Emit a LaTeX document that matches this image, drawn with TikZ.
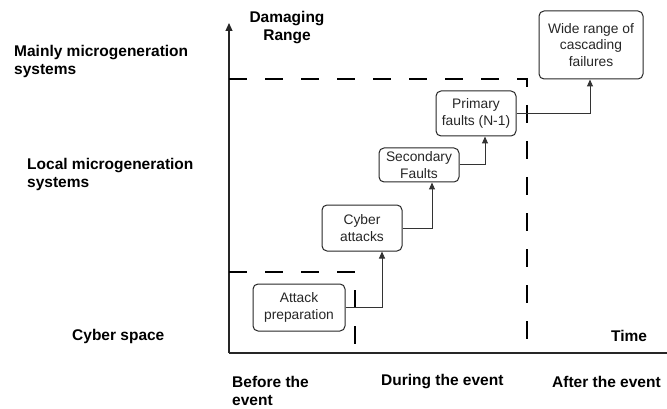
\documentclass[tikz,border=0pt]{standalone}
\usepackage{fontspec}
\setmainfont{Liberation Sans}
\usetikzlibrary{arrows.meta}
\tikzset{
  box/.style={draw=black!85, line width=1pt, rounded corners=5pt, inner sep=0pt, align=center,
    font=\fontsize{13.8}{16.7}\selectfont, text=black!85},
  lbl/.style={inner sep=0pt, font=\fontsize{15.5}{18}\selectfont\bfseries, align=left},
  axis/.style={draw=black!85, line width=1.2pt, -{Triangle[length=8pt,width=7pt]}},
  conn/.style={draw=black!80, line width=1pt, -{Triangle[length=7pt,width=6pt]}},
  dsh/.style={draw=black, line width=2pt, dash pattern=on 18pt off 18pt}
}
\begin{document}
\begin{tikzpicture}[x=1pt,y=-1pt]
\useasboundingbox (0,0) rectangle (667,409);
% axes
\coordinate (O) at (229,353);
\coordinate (ytop) at (229,23);
\coordinate (xend) at (676,353);
\draw[axis] (O) -- (ytop);
\draw[axis] (O) -- (xend);
% dashed regions
\coordinate (d1a) at (229,79);
\coordinate (d1b) at (527,79);
\coordinate (d1c) at (527,353);
\coordinate (d2a) at (229,272);
\coordinate (d2b) at (355,272);
\coordinate (d2c) at (355,353);
\draw[dsh] (d1a) -- (d1b) -- (d1c);
\draw[dsh] (d2a) -- (d2b) -- (d2c);
% boxes
\node[box, minimum width=92pt, minimum height=47pt] (prep) at (299,307.5) {Attack\\preparation};
\node[box, minimum width=80pt, minimum height=46pt] (cyber) at (362,228) {Cyber\\attacks};
\node[box, minimum width=80pt, minimum height=34pt] (sec) at (419,165) {Secondary\\Faults};
\node[box, minimum width=80pt, minimum height=45pt] (prim) at (476,113.5) {Primary\\faults (N-1)};
\node[box, minimum width=104pt, minimum height=68pt] (wide) at (591,45) {Wide range of\\cascading\\failures};
% connectors
\draw[conn] (prep.east) -| ([xshift=20pt]cyber.south);
\draw[conn] (cyber.east) -| ([xshift=13pt]sec.south);
\draw[conn] (sec.east) -| ([xshift=9pt]prim.south);
\draw[conn] (prim.east) -| ([xshift=-1pt]wide.south);
% labels
\node[lbl, align=center] (dr) at (287,28) {Damaging\\Range};
\node[lbl, anchor=west] (mm) at (14,61) {Mainly microgeneration\\systems};
\node[lbl, anchor=west] (lm) at (27,174) {Local microgeneration\\systems};
\node[lbl, anchor=west] (cs) at (72,336) {Cyber space};
\node[lbl, anchor=west] (tm) at (611,336) {Time};
\node[lbl, anchor=west] (be) at (232,391) {Before the\\event};
\node[lbl, anchor=west] (de) at (381,382) {During the event};
\node[lbl, anchor=west] (ae) at (552,382) {After the event};
\end{tikzpicture}
\end{document}
